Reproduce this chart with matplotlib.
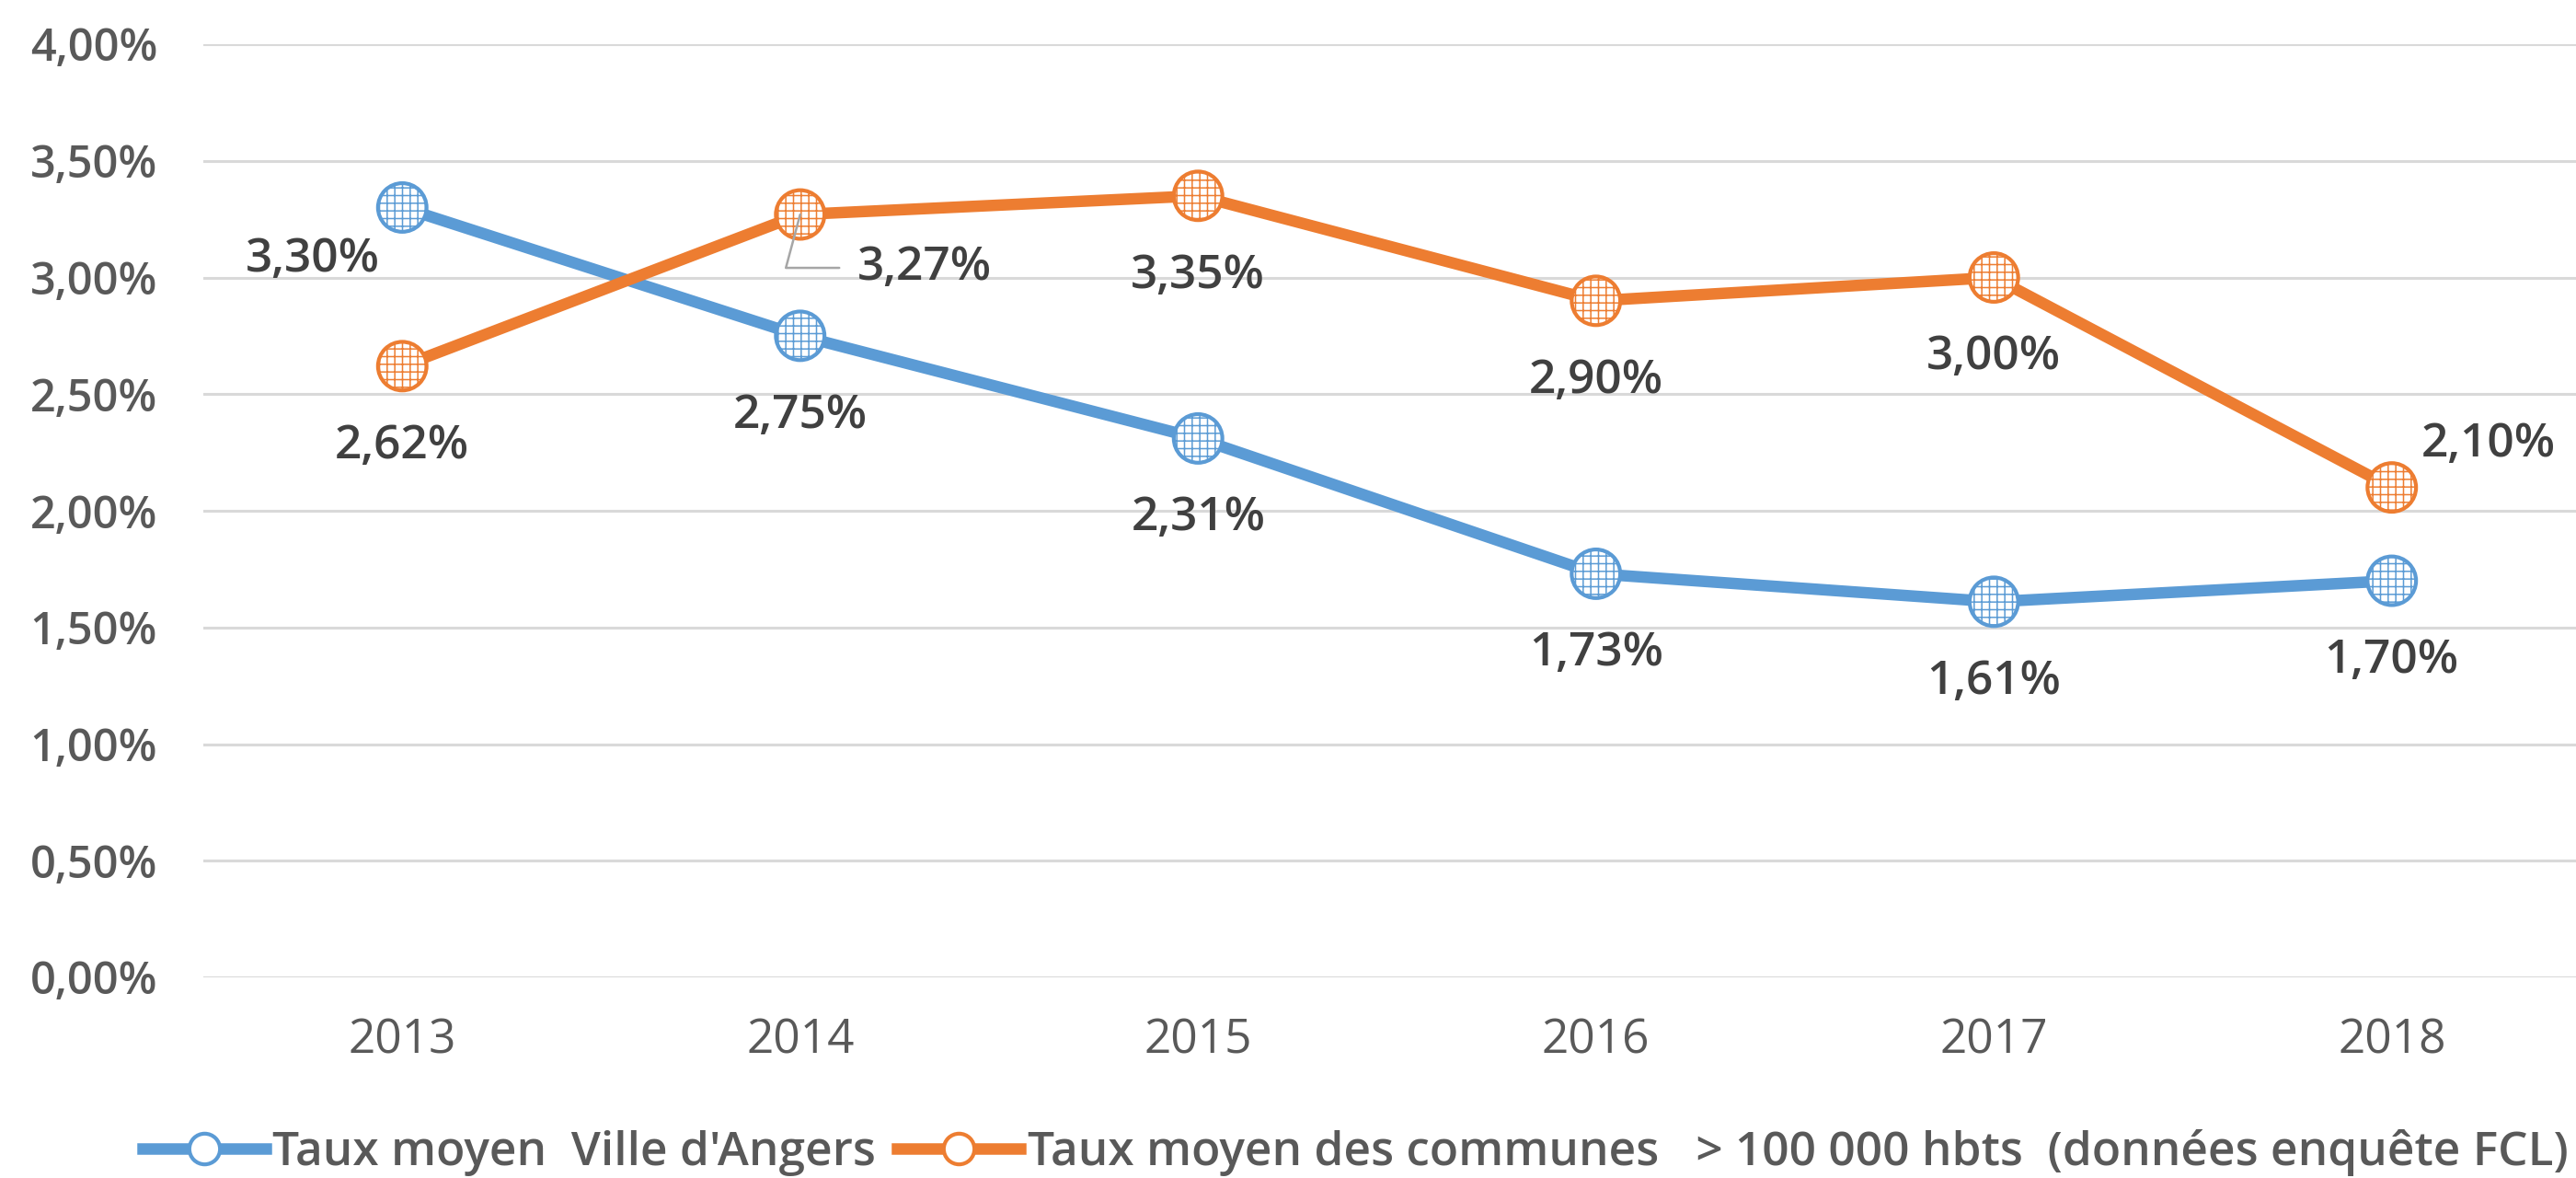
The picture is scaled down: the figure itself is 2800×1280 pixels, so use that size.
import matplotlib
matplotlib.use('Agg')
import matplotlib.pyplot as plt
from matplotlib.lines import Line2D

# ---------------- data ----------------
years = ['2013', '2014', '2015', '2016', '2017', '2018']
angers = [3.30, 2.75, 2.31, 1.73, 1.61, 1.70]
communes = [2.62, 3.27, 3.35, 2.90, 3.00, 2.10]
angers_labels = ['3,30%', '2,75%', '2,31%', '1,73%', '1,61%', '1,70%']
communes_labels = ['2,62%', '3,27%', '3,35%', '2,90%', '3,00%', '2,10%']
yticks = [0.0, 0.5, 1.0, 1.5, 2.0, 2.5, 3.0, 3.5, 4.0]
ytick_labels = ['0,00%', '0,50%', '1,00%', '1,50%', '2,00%', '2,50%', '3,00%', '3,50%', '4,00%']
series_names = ["Taux moyen  Ville d'Angers",
                "Taux moyen des communes   > 100 000 hbts  (données enquête FCL)"]

# ---------------- layout (pixel offsets of labels, +y = up) ----------------
angers_off = [(-97, -57), (0, -87), (0, -87), (0, -87), (0, -87), (0, -87)]
communes_off = [(0, -87), (135, -58), (0, -87), (0, -87), (0, -87), (105, 47)]

BLUE = '#5B9BD5'
ORANGE = '#ED7D31'
GRID = '#D9D9D9'
TXT = '#404040'
TICK = '#595959'

plt.rcParams['font.family'] = ['Open Sans', 'DejaVu Sans']

W, H = 2800, 1280
fig = plt.figure(figsize=(W / 100, H / 100), dpi=100)
ax = fig.add_axes([221 / W, 1 - 1062 / H, (2816 - 221) / W, (1062 - 48) / H])
ax.set_xlim(-0.5, 5.5)
ax.set_ylim(0, 4.0)
for s in ax.spines.values():
    s.set_visible(False)
ax.set_yticks(yticks)
ax.set_yticklabels(ytick_labels)
ax.set_xticks(range(len(years)))
ax.set_xticklabels(years)
ax.tick_params(axis='y', length=0, pad=36, labelsize=35, labelcolor=TICK)
ax.tick_params(axis='x', length=0, pad=31, labelsize=37, labelcolor=TICK)
for t in ax.get_yticklabels():
    t.set_fontweight('semibold')
ax.yaxis.grid(True, color=GRID, lw=2.2)
ax.set_axisbelow(True)

LW = 9
x = list(range(len(years)))
for vals, col in [(angers, BLUE), (communes, ORANGE)]:
    ax.plot(x, vals, color=col, lw=LW, solid_capstyle='round', zorder=3)
    with plt.rc_context({'hatch.color': col, 'hatch.linewidth': 1.1}):
        ax.scatter(x, vals, s=38 ** 2, facecolor='white', edgecolor=col,
                   linewidths=3.0, hatch='++', zorder=4)

for i in x:
    dx, dy = angers_off[i]
    ax.annotate(angers_labels[i], (i, angers[i]), xytext=(dx, dy),
                textcoords='offset pixels', ha='center', va='center',
                fontsize=37, fontweight='semibold', color=TXT, zorder=5)

for i in x:
    dx, dy = communes_off[i]
    kw = {}
    if i == 1:
        kw['arrowprops'] = dict(arrowstyle='-', color='#A6A6A6', lw=1.8,
                                shrinkA=12, shrinkB=0, relpos=(0, 0.5),
                                connectionstyle='angle,angleA=0,angleB=75,rad=0')
    ax.annotate(communes_labels[i], (i, communes[i]), xytext=(dx, dy),
                textcoords='offset pixels', ha='center', va='center',
                fontsize=37, fontweight='semibold', color=TXT, zorder=5, **kw)

handles = [Line2D([0], [0], color=BLUE, lw=LW, marker='o', markersize=24,
                  markerfacecolor='white', markeredgecolor=BLUE, markeredgewidth=3),
           Line2D([0], [0], color=ORANGE, lw=LW, marker='o', markersize=24,
                  markerfacecolor='white', markeredgecolor=ORANGE, markeredgewidth=3)]
leg = fig.legend(handles, series_names, loc='center left',
                 bbox_to_anchor=(155 / W, 1 - 1252 / H), ncol=2, frameon=False,
                 handlelength=2.6, handletextpad=0.15, columnspacing=0.45,
                 prop={'size': 37, 'weight': 'semibold'}, borderpad=0, borderaxespad=0)
for t in leg.get_texts():
    t.set_color(TICK)

fig.savefig('out.png', dpi=100)
